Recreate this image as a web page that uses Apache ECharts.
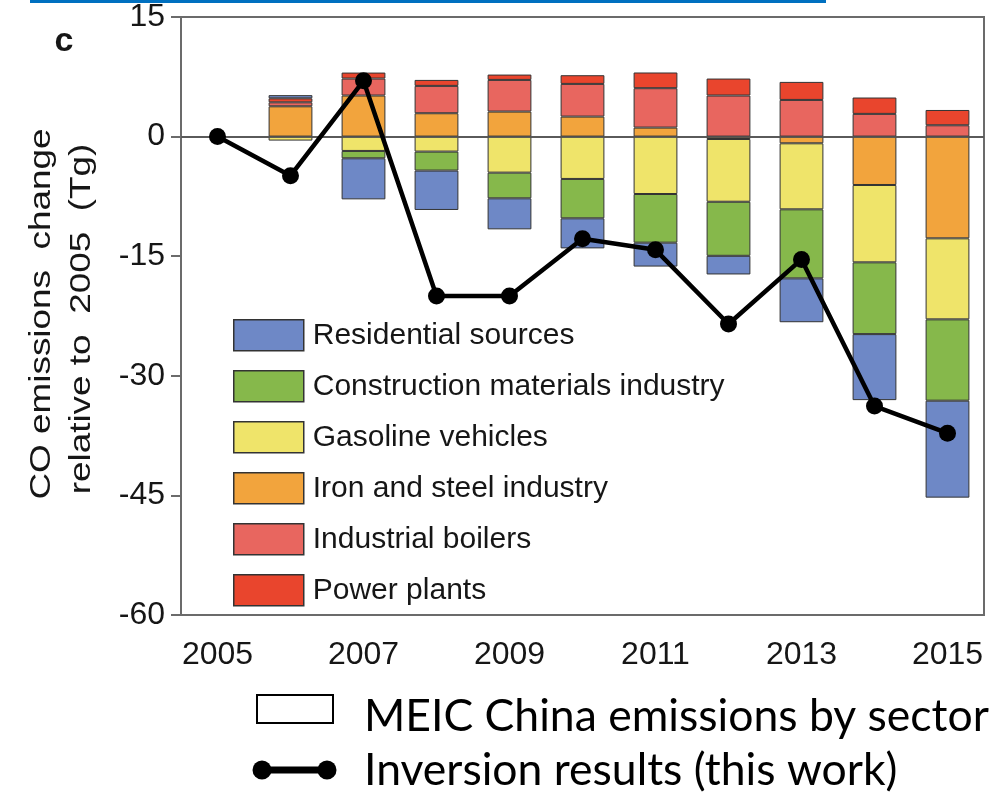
<!DOCTYPE html>
<html>
<head>
<meta charset="utf-8">
<script src="https://cdn.jsdelivr.net/npm/echarts@6/dist/echarts.min.js"></script>
<style>
  html, body { margin: 0; padding: 0; background: #ffffff; }
  #chart { width: 999px; height: 800px; }
</style>
</head>
<body>
<div id="chart"></div>
<script>
// Years on the category axis
const years = ['2005', '2006', '2007', '2008', '2009', '2010', '2011', '2012', '2013', '2014', '2015'];

// MEIC sector contributions to CO emission change relative to 2005 (Tg)
const residential   = [null, 0.4, -5.15, -4.94, -3.89, -3.77, -3.0, -2.34, -5.5, -8.28, -12.16];
const construction  = [null, null, -0.92, -2.38, -3.22, -4.94, -6.1, -6.78, -8.66, -9.0, -10.2];
const gasoline      = [null, -0.5, -1.8, -1.88, -4.52, -5.31, -7.2, -7.87, -8.28, -9.7, -10.16];
const ironSteel     = [null, 3.8, 5.15, 2.93, 3.14, 2.51, 1.13, -0.3, -0.84, -6.07, -12.76];
const boilers       = [null, 0.5, 2.13, 3.43, 3.97, 4.1, 4.94, 5.15, 4.6, 2.85, 1.42];
const powerPlants   = [null, 0.5, 0.75, 0.75, 0.67, 1.09, 1.97, 2.13, 2.26, 2.05, 1.92];

// Inversion results (this work)
const inversion = [0, -4.9, 7.0, -20.0, -20.0, -12.8, -14.2, -23.5, -15.4, -33.8, -37.2];

// Sector names, in legend order
const sectorNames = ['Residential sources', 'Construction materials industry', 'Gasoline vehicles',
                     'Iron and steel industry', 'Industrial boilers', 'Power plants'];

const colors = {
  'Residential sources': '#6e88c6',
  'Construction materials industry': '#86b84b',
  'Gasoline vehicles': '#efe46a',
  'Iron and steel industry': '#f2a43d',
  'Industrial boilers': '#e8665f',
  'Power plants': '#e9452d'
};

const FONT = 'Liberation Sans, Arial, Helvetica, sans-serif';
const KEY_FONT = '44.5px Lato, "Open Sans", sans-serif';
const AXIS = '#6b6b6b';

// Stacking order outward from zero (same for positive and negative parts)
const stackOrder = [
  ['Iron and steel industry', ironSteel],
  ['Gasoline vehicles', gasoline],
  ['Construction materials industry', construction],
  ['Industrial boilers', boilers],
  ['Power plants', powerPlants],
  ['Residential sources', residential]
];

const barSeries = stackOrder.map(([name, values]) => ({
  name: name,
  type: 'bar',
  stack: 'sectors',
  barWidth: '60%',
  data: values,
  itemStyle: { color: colors[name], borderColor: '#333', borderWidth: 1 },
  z: 2
}));

const chart = echarts.init(document.getElementById('chart'), null, { renderer: 'canvas' });

chart.setOption({
  animation: false,
  backgroundColor: '#ffffff',
  grid: {
    left: 181, right: 15, top: 17, bottom: 185,
    show: true, borderColor: AXIS, borderWidth: 2, backgroundColor: 'transparent'
  },
  xAxis: {
    type: 'category',
    data: years,
    axisLine: { lineStyle: { color: AXIS, width: 2 } },
    axisTick: { show: false },
    axisLabel: { interval: 1, fontSize: 32, color: '#161616', fontFamily: FONT, margin: 24 }
  },
  yAxis: {
    type: 'value',
    min: -60, max: 15, interval: 15,
    axisLine: { show: true, lineStyle: { color: AXIS, width: 2 } },
    axisTick: { show: true, length: 10, lineStyle: { color: AXIS, width: 2 } },
    splitLine: { show: false },
    axisLabel: { fontSize: 32, color: '#161616', fontFamily: FONT, margin: 16 }
  },
  legend: {
    orient: 'vertical',
    left: 228, top: 314,
    itemWidth: 70, itemHeight: 31, itemGap: 18.5,
    icon: 'rect',
    data: sectorNames,
    itemStyle: { borderColor: '#333', borderWidth: 1.5 },
    textStyle: { fontSize: 30, lineHeight: 31, fontFamily: FONT, color: '#161616', padding: [0, 0, 0, 4] }
  },
  series: barSeries.concat([{
    name: 'Inversion results (this work)',
    type: 'line',
    data: inversion,
    symbol: 'circle',
    symbolSize: 17,
    lineStyle: { color: '#000', width: 4.5 },
    itemStyle: { color: '#000' },
    z: 5,
    markLine: {
      silent: true,
      symbol: 'none',
      label: { show: false },
      lineStyle: { color: '#555', width: 1.5, type: 'solid' },
      data: [{ yAxis: 0 }]
    }
  }]),
  graphic: [
    // thin blue rule across the top
    { type: 'rect', shape: { x: 30, y: 0, width: 796, height: 3 }, style: { fill: '#0070c0' } },
    // panel letter
    { type: 'text', x: 64, y: 42, style: { text: 'c', font: 'bold 34px ' + FONT, fill: '#161616', textAlign: 'center', textVerticalAlign: 'middle' } },
    // y-axis title, two rotated lines
    { type: 'text', x: 42, y: 314, rotation: Math.PI / 2, scaleX: 1.23,
      style: { text: 'CO emissions  change', font: '30px ' + FONT, fill: '#161616', textAlign: 'center', textVerticalAlign: 'middle' } },
    { type: 'text', x: 82, y: 319, rotation: Math.PI / 2, scaleX: 1.23,
      style: { text: 'relative to  2005  (Tg)', font: '30px ' + FONT, fill: '#161616', textAlign: 'center', textVerticalAlign: 'middle' } },
    // external key: sector bars
    { type: 'rect', shape: { x: 257, y: 695, width: 76, height: 28 }, style: { fill: '#fff', stroke: '#000', lineWidth: 2 } },
    { type: 'text', x: 364, y: 717, style: { text: 'MEIC China emissions by sector', font: KEY_FONT, fill: '#000', textAlign: 'left', textVerticalAlign: 'middle' } },
    // external key: inversion line
    { type: 'line', shape: { x1: 262, y1: 770, x2: 327, y2: 770 }, style: { stroke: '#000', lineWidth: 7 } },
    { type: 'circle', shape: { cx: 262, cy: 770, r: 9.5 }, style: { fill: '#000' } },
    { type: 'circle', shape: { cx: 327, cy: 770, r: 9.5 }, style: { fill: '#000' } },
    { type: 'text', x: 364, y: 771, style: { text: 'Inversion results (this work)', font: KEY_FONT, fill: '#000', textAlign: 'left', textVerticalAlign: 'middle' } }
  ]
});
</script>
</body>
</html>
